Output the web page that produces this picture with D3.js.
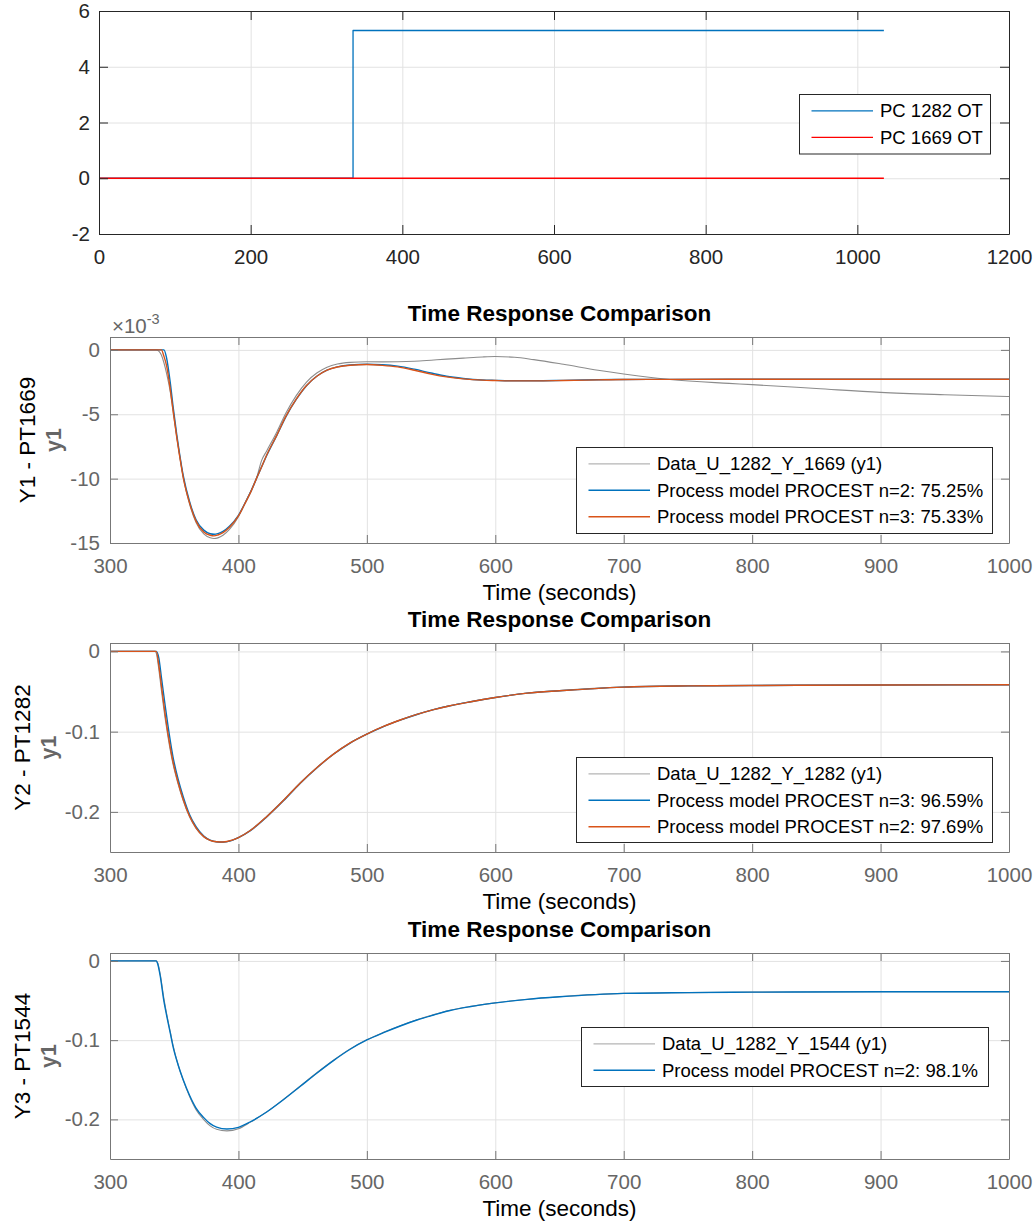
<!DOCTYPE html>
<html>
<head>
<meta charset="utf-8">
<script src="https://cdn.jsdelivr.net/npm/d3@7"></script>
<style>
body { margin: 0; background: #fff; }
svg text { font-family: "Liberation Sans", Arial, Helvetica, sans-serif; }
</style>
</head>
<body>
<svg id="chart" width="1034" height="1224"></svg>
<script>
// ---- panel 1 : controller outputs ----
var pcTime1282 = [0, 335, 1035];
var pc1282Out = [0, 5.3, 5.3];
var pcTime1669 = [0, 1035];
var pc1669Out = [0, 0];
var topXTicks = [0, 200, 400, 600, 800, 1000, 1200];
var topYTicks = [-2, 0, 2, 4, 6];

// ---- common time axis of the compare plots ----
var timeTicks = [300, 400, 500, 600, 700, 800, 900, 1000];

// ---- panel 2 : Y1 - PT1669 (values x 10^-3) ----
var t1669 = [300, 336, 338, 340, 342, 344, 347, 349, 352, 354,
	357, 362, 367, 373, 378, 381, 384, 388, 393, 400,
	406, 410, 414, 418, 422, 430, 437, 445, 453, 461,
	469, 477, 487, 500, 512, 524, 537, 550, 562, 575,
	590, 600, 615, 630, 653, 680, 700, 736, 782, 800,
	850, 900, 950, 1000];
var data1669 = [0, 0, -0.1, -0.4, -1.0, -1.8, -3.3, -4.7, -6.8, -8.1,
	-9.9, -12.0, -13.4, -14.3, -14.6, -14.65, -14.6, -14.4, -13.95, -12.95,
	-11.75, -10.9, -10.0, -8.6, -7.85, -6.35, -4.9, -3.55, -2.5, -1.8,
	-1.35, -1.1, -0.97, -0.92, -0.93, -0.92, -0.88, -0.8, -0.72, -0.64,
	-0.55, -0.52, -0.57, -0.76, -1.12, -1.58, -1.87, -2.3, -2.6, -2.7,
	-3.0, -3.3, -3.48, -3.62];
var n2Model1669 = [0, 0, 0, 0, 0, -0.6, -2.6, -4.3, -6.6, -7.95,
	-9.75, -11.8, -13.2, -14.0, -14.28, -14.32, -14.27, -14.1, -13.7, -12.85,
	-11.72, -10.93, -10.0, -9.1, -8.2, -6.62, -5.18, -3.85, -2.78, -2.05,
	-1.58, -1.32, -1.17, -1.12, -1.15, -1.26, -1.5, -1.8, -2.05, -2.22,
	-2.34, -2.37, -2.4, -2.4, -2.37, -2.32, -2.3, -2.29, -2.28, -2.28,
	-2.28, -2.28, -2.28, -2.28];
var n3Model1669 = [0, 0, 0, 0, -0.5, -1.2, -3.1, -4.6, -6.8, -8.1,
	-9.9, -11.9, -13.3, -14.15, -14.4, -14.45, -14.38, -14.2, -13.78, -12.9,
	-11.75, -10.95, -10.0, -9.1, -8.17, -6.6, -5.15, -3.83, -2.77, -2.05,
	-1.58, -1.33, -1.19, -1.14, -1.2, -1.32, -1.58, -1.88, -2.1, -2.25,
	-2.35, -2.38, -2.41, -2.41, -2.38, -2.33, -2.3, -2.29, -2.28, -2.28,
	-2.28, -2.28, -2.28, -2.28];
var y1669Ticks = [-15, -10, -5, 0];

// ---- panel 3 : Y2 - PT1282 ----
var t1282 = [300, 335, 336, 338, 340, 343, 345, 349, 353, 357,
	362, 367, 373, 378, 383, 388, 395, 400, 409, 422,
	435, 448, 461, 474, 487, 500, 513, 526, 539, 552,
	564, 580, 600, 625, 650, 700, 750, 800, 900, 1000];
var data1282 = [0, 0, -0.002, -0.022, -0.048, -0.084, -0.105, -0.14, -0.165, -0.186,
	-0.2065, -0.2205, -0.231, -0.2358, -0.2375, -0.2378, -0.2356, -0.232, -0.2232, -0.2055,
	-0.1855, -0.1638, -0.1448, -0.1278, -0.1138, -0.1028, -0.0933, -0.0853, -0.0783, -0.0723,
	-0.0678, -0.0628, -0.0574, -0.0519, -0.0488, -0.0444, -0.043, -0.0424, -0.0418, -0.0416];
var n3Model1282 = [0, 0, 0, -0.008, -0.032, -0.068, -0.091, -0.131, -0.159, -0.181,
	-0.2035, -0.2185, -0.2302, -0.2353, -0.2372, -0.2376, -0.2355, -0.2322, -0.2238, -0.2063,
	-0.1862, -0.1645, -0.1452, -0.1282, -0.1142, -0.1032, -0.0937, -0.0857, -0.0786, -0.0726,
	-0.068, -0.063, -0.0575, -0.052, -0.049, -0.0445, -0.043, -0.0425, -0.0418, -0.0416];
var n2Model1282 = [0, 0, 0, -0.017, -0.042, -0.079, -0.101, -0.137, -0.163, -0.1845,
	-0.2055, -0.2198, -0.2308, -0.2355, -0.2372, -0.2375, -0.2352, -0.232, -0.2235, -0.206,
	-0.1858, -0.1642, -0.145, -0.128, -0.114, -0.103, -0.0935, -0.0855, -0.0785, -0.0725,
	-0.068, -0.063, -0.0575, -0.052, -0.049, -0.0445, -0.043, -0.0425, -0.0418, -0.0416];
var y1282Ticks = [-0.2, -0.1, 0];

// ---- panel 4 : Y3 - PT1544 ----
var t1544 = [300, 336, 337, 339, 342, 344, 347, 349, 353, 357,
	362, 367, 373, 378, 383, 391, 400, 409, 422, 435,
	448, 461, 474, 487, 500, 513, 526, 539, 552, 564,
	580, 600, 625, 650, 700, 750, 800, 900, 1000];
var data1544 = [0, 0, -0.002, -0.016, -0.048, -0.066, -0.09, -0.106, -0.131, -0.1505,
	-0.1712, -0.1878, -0.2002, -0.2082, -0.2125, -0.2145, -0.2118, -0.2038, -0.1905, -0.1748,
	-0.158, -0.1412, -0.1253, -0.111, -0.0994, -0.0901, -0.0817, -0.0742, -0.0679, -0.0626,
	-0.0576, -0.0529, -0.0484, -0.0452, -0.041, -0.04, -0.0394, -0.039, -0.039];
var n2Model1544 = [0, 0, -0.003, -0.018, -0.051, -0.068, -0.0915, -0.1075, -0.131, -0.150,
	-0.1698, -0.1857, -0.1978, -0.2054, -0.2098, -0.2122, -0.2100, -0.2033, -0.1907, -0.1752,
	-0.1585, -0.1417, -0.1258, -0.1115, -0.0998, -0.0905, -0.0821, -0.0746, -0.0683, -0.0629,
	-0.0578, -0.053, -0.0485, -0.0453, -0.041, -0.0400, -0.0394, -0.039, -0.039];
var y1544Ticks = [-0.2, -0.1, 0];

var BLUE = "#0072BD", ORANGE = "#D95319", RED = "#FF0000", GRAY = "#8c8c8c";
var TICK_FS = 20.5, LABEL_FS = 22.5, LEGEND_FS = 18.5;

var svg = d3.select("#chart");
var clipId = 0;

function fmt(d) { return String(d); }

function makePanel(o) {
	var x = d3.scaleLinear().domain(o.xDomain).range([o.left, o.right]);
	var y = d3.scaleLinear().domain(o.yDomain).range([o.bottom, o.top]);
	var w = o.right - o.left, h = o.bottom - o.top;
	var g = svg.append("g");

	// grid lines
	g.append("g")
		.attr("transform", "translate(0," + o.bottom + ")")
		.call(d3.axisBottom(x).tickValues(o.xTicks).tickSize(-h).tickFormat(""))
		.call(function(s) {
			s.select(".domain").remove();
			s.selectAll("line").attr("stroke", "#e2e2e2");
		});
	g.append("g")
		.attr("transform", "translate(" + o.left + ",0)")
		.call(d3.axisLeft(y).tickValues(o.yTicks).tickSize(-w).tickFormat(""))
		.call(function(s) {
			s.select(".domain").remove();
			s.selectAll("line").attr("stroke", "#e2e2e2");
		});

	clipId++;
	svg.append("clipPath").attr("id", "clip" + clipId)
		.append("rect").attr("x", o.left).attr("y", o.top).attr("width", w).attr("height", h);
	var plot = g.append("g").attr("clip-path", "url(#clip" + clipId + ")");

	return { g: g, plot: plot, x: x, y: y, o: o };
}

function addLine(p, t, v, color, width, curve) {
	var line = d3.line()
		.x(function(d) { return p.x(d[0]); })
		.y(function(d) { return p.y(d[1]); })
		.curve(curve || d3.curveMonotoneX);
	p.plot.append("path")
		.datum(d3.zip(t, v))
		.attr("fill", "none")
		.attr("stroke", color)
		.attr("stroke-width", width)
		.attr("stroke-linejoin", "round")
		.attr("d", line);
}

function styleAxis(s, o, showText) {
	s.select(".domain").attr("stroke", o.axisColor).attr("stroke-width", 1);
	s.selectAll(".tick line").attr("stroke", o.axisColor);
	if (showText) {
		s.selectAll(".tick text")
			.attr("fill", o.textColor)
			.attr("font-size", TICK_FS)
			.attr("font-family", null);
	}
	s.attr("font-family", null);
}

function drawAxes(p) {
	var o = p.o, g = p.g, L = o.tickLen;
	g.append("g")
		.attr("transform", "translate(0," + o.bottom + ")")
		.call(d3.axisBottom(p.x).tickValues(o.xTicks).tickSizeInner(-L).tickSizeOuter(0)
			.tickPadding(30 - 0.71 * TICK_FS).tickFormat(fmt))
		.call(function(s) { styleAxis(s, o, true); });
	g.append("g")
		.attr("transform", "translate(0," + o.top + ")")
		.call(d3.axisTop(p.x).tickValues(o.xTicks).tickSizeInner(-L).tickSizeOuter(0).tickFormat(""))
		.call(function(s) { styleAxis(s, o, false); });
	g.append("g")
		.attr("transform", "translate(" + o.left + ",0)")
		.call(d3.axisLeft(p.y).tickValues(o.yTicks).tickSizeInner(-L).tickSizeOuter(0)
			.tickPadding(o.yPad).tickFormat(fmt))
		.call(function(s) { styleAxis(s, o, true); });
	g.append("g")
		.attr("transform", "translate(" + o.right + ",0)")
		.call(d3.axisRight(p.y).tickValues(o.yTicks).tickSizeInner(-L).tickSizeOuter(0).tickFormat(""))
		.call(function(s) { styleAxis(s, o, false); });

	var cx = (o.left + o.right) / 2, cy = (o.top + o.bottom) / 2;
	if (o.title) {
		g.append("text")
			.attr("x", cx).attr("y", o.top - 16.5)
			.attr("text-anchor", "middle")
			.attr("font-size", LABEL_FS).attr("font-weight", "bold")
			.attr("fill", "#000")
			.text(o.title);
	}
	if (o.xLabel) {
		g.append("text")
			.attr("x", cx).attr("y", o.bottom + 56.5)
			.attr("text-anchor", "middle")
			.attr("font-size", LABEL_FS)
			.attr("fill", "#000")
			.text(o.xLabel);
	}
	if (o.yLabel) {
		g.append("text")
			.attr("transform", "translate(" + o.yLabelX + "," + cy + ") rotate(-90)")
			.attr("text-anchor", "middle")
			.attr("font-size", LABEL_FS)
			.attr("fill", "#000")
			.text(o.yLabel);
		g.append("text")
			.attr("transform", "translate(" + (o.yLabelX + 26) + "," + cy + ") rotate(-90)")
			.attr("text-anchor", "middle")
			.attr("font-size", 21.5).attr("font-weight", "bold")
			.attr("fill", "#666")
			.text("y1");
	}
}

function drawLegend(box, items) {
	var lg = svg.append("g");
	lg.append("rect")
		.attr("x", box.x + 0.5).attr("y", box.y + 0.5)
		.attr("width", box.w).attr("height", box.h)
		.attr("fill", "#fff").attr("stroke", "#262626").attr("stroke-width", 1);
	items.forEach(function(it, i) {
		var ry = box.y + 16.8 + i * 26.5;
		lg.append("line")
			.attr("x1", box.x + 12.5).attr("x2", box.x + 74)
			.attr("y1", ry).attr("y2", ry)
			.attr("stroke", it.color).attr("stroke-width", it.width);
		lg.append("text")
			.attr("x", box.x + 81).attr("y", ry)
			.attr("dy", "0.35em")
			.attr("font-size", LEGEND_FS)
			.attr("fill", "#000")
			.text(it.label);
	});
}

// ---------- panel 1 ----------
var p1 = makePanel({
	left: 99, right: 1009, top: 11, bottom: 234,
	xDomain: [0, 1200], yDomain: [-2, 6],
	xTicks: topXTicks, yTicks: topYTicks,
	axisColor: "#262626", textColor: "#262626", tickLen: 9, yPad: 9
});
addLine(p1, pcTime1282, pc1282Out, BLUE, 1.3, d3.curveStepAfter);
addLine(p1, pcTime1669, pc1669Out, RED, 1.3, d3.curveLinear);
drawAxes(p1);
drawLegend({ x: 799, y: 94, w: 191, h: 59.5 }, [
	{ label: "PC 1282 OT", color: BLUE, width: 1.3 },
	{ label: "PC 1669 OT", color: RED, width: 1.3 }
]);

// ---------- panel 2 ----------
var compareOpts = {
	left: 110, right: 1009,
	xDomain: [300, 1000], xTicks: timeTicks,
	axisColor: "#777", textColor: "#666", tickLen: 8, yPad: 10,
	title: "Time Response Comparison", xLabel: "Time (seconds)"
};
var p2 = makePanel(Object.assign({}, compareOpts, {
	top: 337, bottom: 543, yDomain: [-15, 1], yTicks: y1669Ticks,
	yLabel: "Y1 - PT1669", yLabelX: 35
}));
addLine(p2, t1669, data1669, GRAY, 1.1);
addLine(p2, t1669, n2Model1669, BLUE, 1.4);
addLine(p2, t1669, n3Model1669, ORANGE, 1.4);
drawAxes(p2);
var expo = p2.g.append("text")
	.attr("x", 112).attr("y", 333)
	.attr("font-size", TICK_FS).attr("fill", "#666");
expo.append("tspan").text("\u00d710");
expo.append("tspan").attr("dy", -9).attr("font-size", 14.5).text("-3");
drawLegend({ x: 576, y: 447, w: 416, h: 86 }, [
	{ label: "Data_U_1282_Y_1669 (y1)", color: "#b5b5b5", width: 1.3 },
	{ label: "Process model PROCEST n=2: 75.25%", color: BLUE, width: 1.4 },
	{ label: "Process model PROCEST n=3: 75.33%", color: ORANGE, width: 1.4 }
]);

// ---------- panel 3 ----------
var p3 = makePanel(Object.assign({}, compareOpts, {
	top: 643, bottom: 852, yDomain: [-0.25, 0.0105], yTicks: y1282Ticks,
	yLabel: "Y2 - PT1282", yLabelX: 30
}));
addLine(p3, t1282, data1282, GRAY, 1.1);
addLine(p3, t1282, n3Model1282, BLUE, 1.4);
addLine(p3, t1282, n2Model1282, ORANGE, 1.4);
drawAxes(p3);
drawLegend({ x: 576, y: 757, w: 416, h: 85 }, [
	{ label: "Data_U_1282_Y_1282 (y1)", color: "#b5b5b5", width: 1.3 },
	{ label: "Process model PROCEST n=3: 96.59%", color: BLUE, width: 1.4 },
	{ label: "Process model PROCEST n=2: 97.69%", color: ORANGE, width: 1.4 }
]);

// ---------- panel 4 ----------
var p4 = makePanel(Object.assign({}, compareOpts, {
	top: 953, bottom: 1159, yDomain: [-0.25, 0.01], yTicks: y1544Ticks,
	yLabel: "Y3 - PT1544", yLabelX: 30
}));
addLine(p4, t1544, data1544, GRAY, 1.1);
addLine(p4, t1544, n2Model1544, BLUE, 1.4);
drawAxes(p4);
drawLegend({ x: 581, y: 1027, w: 407, h: 59 }, [
	{ label: "Data_U_1282_Y_1544 (y1)", color: "#b5b5b5", width: 1.3 },
	{ label: "Process model PROCEST n=2: 98.1%", color: BLUE, width: 1.4 }
]);
</script>
</body>
</html>
